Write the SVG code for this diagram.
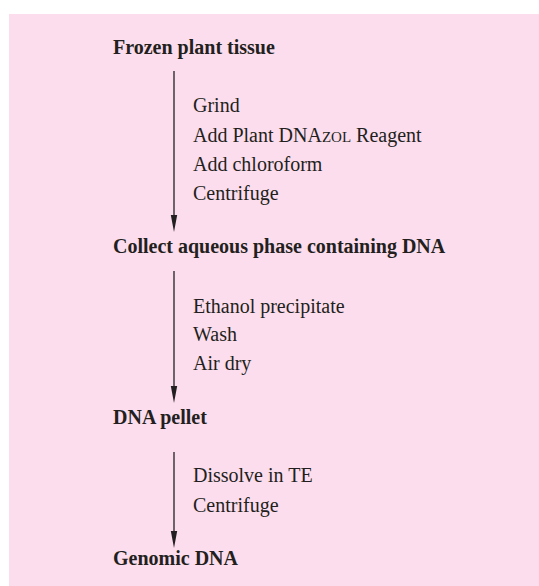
<svg xmlns="http://www.w3.org/2000/svg" width="539" height="586" viewBox="0 0 539 586">
<style>
text{font-family:"Liberation Serif","Times New Roman",serif;fill:#231f20;font-size:20px}
.b{font-weight:bold}
.c{stroke:#231f20;stroke-width:1.3;fill:none}
.h{fill:#231f20}
</style>
<rect x="9" y="14" width="530" height="572" fill="#fcdded"/>
<g id="connectors">
<path class="c" d="M174,71 V215"/>
<path class="h" d="M170.8,215 L174,232 L177.2,215 Z"/>
<path class="c" d="M174,271 V386"/>
<path class="h" d="M170.8,386 L174,403 L177.2,386 Z"/>
<path class="c" d="M174,452 V531"/>
<path class="h" d="M170.8,531 L174,548 L177.2,531 Z"/>
</g>
<g id="n1"><text class="b" x="113" y="54">Frozen plant tissue</text></g>
<g id="s1">
<text x="193" y="112">Grind</text>
<text x="193" y="142">Add Plant DNA<tspan font-size="15">ZOL</tspan> Reagent</text>
<text x="193" y="171">Add chloroform</text>
<text x="193" y="200">Centrifuge</text>
</g>
<g id="n2"><text class="b" x="113" y="253">Collect aqueous phase containing DNA</text></g>
<g id="s2">
<text x="193" y="313">Ethanol precipitate</text>
<text x="193" y="341">Wash</text>
<text x="193" y="370">Air dry</text>
</g>
<g id="n3"><text class="b" x="113" y="424">DNA pellet</text></g>
<g id="s3">
<text x="193" y="482">Dissolve in TE</text>
<text x="193" y="512">Centrifuge</text>
</g>
<g id="n4"><text class="b" x="113" y="565">Genomic DNA</text></g>
</svg>
